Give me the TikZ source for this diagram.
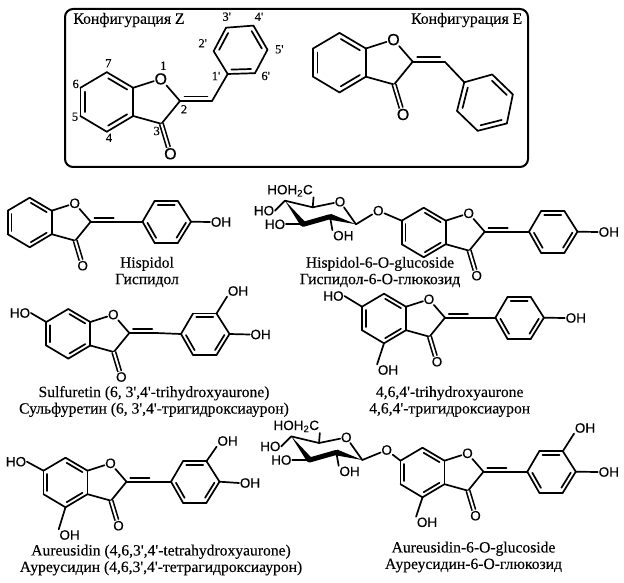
\documentclass[tikz,border=0pt]{standalone}
\usepackage{fontspec}
\setmainfont{Liberation Serif}[Ligatures=TeXOff,FakeBold=0.2]
\newfontfamily\atomfont{Liberation Sans}[FakeBold=0.2]
\usetikzlibrary{calc}
\newcommand{\dbgap}{3.8pt}
\newcommand{\dbond}[3][-90]{%
  \draw[bond] (#2) -- (#3);
  \draw[bond] ($(#2)!0.14!(#3)!\dbgap!#1:(#3)$) -- ($(#2)!0.86!(#3)!\dbgap!#1:(#3)$);}
\newcommand{\wedgebond}[2]{%
  \fill (#1) -- ($(#2)!3pt!90:(#1)$) -- ($(#2)!3pt!-90:(#1)$) -- cycle;}
\tikzset{
  bond/.style={line width=1.7pt, line cap=round, line join=round},
  cobond/.style={line width=1.6pt, double, double distance=2pt},
  atom/.style={font=\atomfont\fontsize{13.5}{13.5}\selectfont, inner sep=0.6pt},
  big atom/.style={atom/.append style={font=\atomfont\fontsize{16}{16}\selectfont}},
  numlabel/.style={font=\fontsize{12.5}{12.5}\selectfont, inner sep=0pt},
  heading/.style={font=\fontsize{15.7}{15.7}\selectfont, inner sep=0pt},
  caption/.style={font=\fontsize{15.6}{16.5}\selectfont, align=center, inner sep=0pt},
  aurone/.pic={
    \coordinate (-c2) at (0,0);
    \coordinate (-c3) at (-15.5,19);
    \coordinate (-c3a) at (-39,12.5);
    \coordinate (-c4) at (-61,25.6);
    \coordinate (-c5) at (-83,12.5);
    \coordinate (-c6) at (-83,-11);
    \coordinate (-c7) at (-61,-24);
    \coordinate (-c7a) at (-39,-11);
    \coordinate (-ch) at (26.7,0);
    \node[atom] (-o1) at (-16,-18.4) {O};
    \node[atom] (-oc) at (-8,44) {O};
    \dbond{-c7}{-c7a}
    \draw[bond] (-c7a) -- (-c3a);
    \dbond{-c3a}{-c4}
    \draw[bond] (-c4) -- (-c5);
    \dbond{-c5}{-c6}
    \draw[bond] (-c6) -- (-c7);
    \draw[bond] (-c7a) -- (-o1) -- (-c2) -- (-c3) -- (-c3a);
    \dbond[90]{-c2}{-ch}
    \draw[cobond] (-c3) -- (-oc);
  },
  phenyl/.pic={
    \coordinate (-c1) at (0,0);
    \coordinate (-c2) at (12,-20.5);
    \coordinate (-c3) at (35.5,-20.5);
    \coordinate (-c4) at (48.5,0);
    \coordinate (-c5) at (35.5,21);
    \coordinate (-c6) at (12,21);
    \draw[bond] (-c1) -- (-c2);
    \dbond{-c2}{-c3}
    \draw[bond] (-c3) -- (-c4);
    \dbond{-c4}{-c5}
    \draw[bond] (-c5) -- (-c6);
    \dbond{-c6}{-c1}
  },
  glucose/.pic={
    \coordinate (-c1) at (0,0);
    \coordinate (-c2) at (-26,-7.6);
    \coordinate (-c3) at (-52.7,0);
    \coordinate (-c4) at (-71,-23.6);
    \coordinate (-c5) at (-43.3,-17);
    \node[atom] (-o) at (-16,-22.6) {O};
    \node[atom] (-ch2) at (-66,-33.6) {HOH\textsubscript{2}C};
    \node[atom] (-oh4) at (-92,-13.6) {HO};
    \node[atom] (-oh3) at (-81,0) {HO};
    \node[atom] (-oh2) at (-12.7,11.4) {OH};
    \draw[bond] (-c4) -- (-c5) -- (-o) -- (-c1);
    \wedgebond{-c1}{-c2}
    \draw[bond, line width=5pt] (-c2) -- (-c3);
    \wedgebond{-c4}{-c3}
    \draw[bond] (-c5) -- (-ch2.south east);
    \draw[bond] (-c4) -- (-oh4.east);
    \draw[bond] (-c3) -- (-oh3.east);
    \draw[bond] (-c2) -- (-oh2.north west);
  }
}
\begin{document}
\begin{tikzpicture}[x=1pt,y=-1pt]
  \useasboundingbox (0,0) rectangle (624,583);
  % Frame with the two configurations
  \draw[line width=2pt, rounded corners=8pt] (65,9) rectangle (528,167);
  \node[heading] (head_z) at (129,20) {Конфигурация Z};
  \node[heading] (head_e) at (466.7,20) {Конфигурация E};

  % Configuration Z
  \pic[scale=1.2, big atom] (z) at (180,101) {aurone};
  \pic[scale=1.13, rotate=62] (zr) at (227.7,74) {phenyl};
  \draw[bond] (z-ch) -- (zr-c1);
  \node[numlabel] (n1) at (163.3,65.7) {1};
  \node[numlabel] (n2) at (184,109.3) {2};
  \node[numlabel] (n3) at (156.7,131) {3};
  \node[numlabel] (n4) at (109,137.7) {4};
  \node[numlabel] (n5) at (75,116.7) {5};
  \node[numlabel] (n6) at (75.7,84) {6};
  \node[numlabel] (n7) at (108.3,63.3) {7};
  \node[numlabel] (n1p) at (216,76) {1'};
  \node[numlabel] (n2p) at (202.7,43.3) {2'};
  \node[numlabel] (n3p) at (226.7,16.7) {3'};
  \node[numlabel] (n4p) at (259,16.7) {4'};
  \node[numlabel] (n5p) at (279.3,49.3) {5'};
  \node[numlabel] (n6p) at (265.7,76) {6'};

  % Configuration E
  \pic[scale=1.2, big atom] (e) at (412.7,61.7) {aurone};
  \pic[scale=1.22, rotate=-44] (er) at (464.3,82.3) {phenyl};
  \draw[bond] (e-ch) -- (er-c1);

  % Hispidol
  \pic (his) at (90.7,221.7) {aurone};
  \pic (hisr) at (142.5,221.7) {phenyl};
  \node[atom] (his_oh) at (221,222) {OH};
  \draw[bond] (his-ch) -- (hisr-c1);
  \draw[bond] (hisr-c4) -- (his_oh.west);
  \node[caption] (his_cap) at (147,272) {Hispidol\\Гиспидол};

  % Hispidol glucoside
  \pic (hgl) at (484.7,231.7) {aurone};
  \pic (hglr) at (529,231.7) {phenyl};
  \pic (hgls) at (356,224.3) {glucose};
  \node[atom] (hgl_o) at (378.3,210.7) {O};
  \node[atom] (hgl_oh) at (608.8,232) {OH};
  \draw[bond] (hgl-ch) -- (hglr-c1);
  \draw[bond] (hglr-c4) -- (hgl_oh.west);
  \draw[bond] (hgls-c1) -- (hgl_o) -- (hgl-c6);
  \node[caption] (hgl_cap) at (380,272) {Hispidol-6-O-glucoside\\Гиспидол-6-О-глюкозид};

  % Sulfuretin
  \pic (sul) at (129.3,333) {aurone};
  \pic (sulr) at (181,334) {phenyl};
  \node[atom] (sul_ho) at (20,313) {HO};
  \node[atom] (sul_oh3) at (238,291) {OH};
  \node[atom] (sul_oh4) at (260.6,334.5) {OH};
  \draw[bond] (sul-ch) -- (sulr-c1);
  \draw[bond] (sul-c6) -- (sul_ho.east);
  \draw[bond] (sulr-c3) -- (sul_oh3.south west);
  \draw[bond] (sulr-c4) -- (sul_oh4.west);
  \node[caption] (sul_cap) at (154,401.5) {Sulfuretin (6, 3',4'-trihydroxyaurone)\\Сульфуретин (6, 3',4'-тригидроксиаурон)};

  % 4,6,4'-trihydroxyaurone
  \pic (tri) at (445,317.7) {aurone};
  \pic (trir) at (495.4,317.7) {phenyl};
  \node[atom] (tri_ho) at (333.5,296) {HO};
  \node[atom] (tri_oh4) at (388,370) {OH};
  \node[atom] (tri_ohp) at (575.8,318) {OH};
  \draw[bond] (tri-ch) -- (trir-c1);
  \draw[bond] (tri-c6) -- (tri_ho.east);
  \draw[bond] (tri-c4) -- (tri_oh4.north west);
  \draw[bond] (trir-c4) -- (tri_ohp.west);
  \node[caption] (tri_cap) at (449.7,401.5) {4,6,4'-trihydroxyaurone\\4,6,4'-тригидроксиаурон};

  % Aureusidin
  \pic (aur) at (126.5,481.7) {aurone};
  \pic (aurr) at (171,481.7) {phenyl};
  \node[atom] (aur_ho) at (16,461.7) {HO};
  \node[atom] (aur_oh4) at (69.6,535) {OH};
  \node[atom] (aur_oh3) at (227.6,441) {OH};
  \node[atom] (aur_ohp) at (250,483) {OH};
  \draw[bond] (aur-ch) -- (aurr-c1);
  \draw[bond] (aur-c6) -- (aur_ho.east);
  \draw[bond] (aur-c4) -- (aur_oh4.north west);
  \draw[bond] (aurr-c3) -- (aur_oh3.south west);
  \draw[bond] (aurr-c4) -- (aur_ohp.west);
  \node[caption] (aur_cap) at (161,560) {Aureusidin (4,6,3',4'-tetrahydroxyaurone)\\Ауреусидин (4,6,3',4'-тетрагидроксиаурон)};

  % Aureusidin glucoside
  \pic (agl) at (483.5,471.7) {aurone};
  \pic (aglr) at (527.3,471.7) {phenyl};
  \pic (agls) at (362.3,460) {glucose};
  \node[atom] (agl_o) at (386.7,450) {O};
  \node[atom] (agl_oh4) at (427,522.3) {OH};
  \node[atom] (agl_oh3) at (585,428) {OH};
  \node[atom] (agl_ohp) at (608.8,472) {OH};
  \draw[bond] (agl-ch) -- (aglr-c1);
  \draw[bond] (aglr-c3) -- (agl_oh3.south west);
  \draw[bond] (aglr-c4) -- (agl_ohp.west);
  \draw[bond] (agl-c4) -- (agl_oh4.north west);
  \draw[bond] (agls-c1) -- (agl_o) -- (agl-c6);
  \node[caption] (agl_cap) at (473.5,557) {Aureusidin-6-O-glucoside\\Ауреусидин-6-О-глюкозид};
\end{tikzpicture}
\end{document}
